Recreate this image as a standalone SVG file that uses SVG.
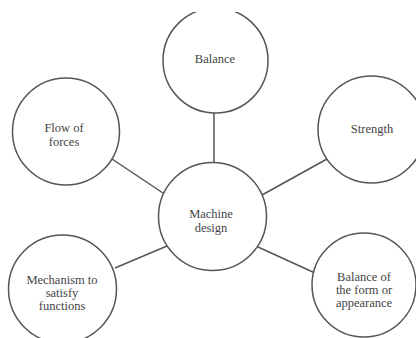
<svg xmlns="http://www.w3.org/2000/svg" width="416" height="338" viewBox="0 0 416 338">
<style>
.n{fill:#fff;stroke:#555;stroke-width:1.5}
.c line{stroke:#555;stroke-width:1.5}
.t text{font-size:12.5px;fill:#444;text-anchor:middle}
</style>
<defs><clipPath id="cl"><rect x="0" y="12" width="416" height="326"/></clipPath></defs>
<rect width="416" height="338" fill="#fff"/>
<g id="connectors" class="c">
<line x1="214" y1="113" x2="214" y2="163"/>
<line x1="112" y1="159" x2="163" y2="193"/>
<line x1="327" y1="159" x2="262" y2="195"/>
<line x1="115" y1="268" x2="167" y2="246"/>
<line x1="258" y1="247" x2="315" y2="273"/>
</g>
<g clip-path="url(#cl)" class="t" font-family="Liberation Serif, Times New Roman, DejaVu Serif, serif">
<g id="balance"><circle class="n" cx="215.5" cy="60.5" r="52.5"/><text x="215" y="63">Balance</text></g>
<g id="flow"><circle class="n" cx="66" cy="131.5" r="53.5"/><text x="64" y="132">Flow of</text><text x="64" y="145.5">forces</text></g>
<g id="strength"><circle class="n" cx="371.5" cy="129.5" r="53.5"/><text x="372" y="133">Strength</text></g>
<g id="machine"><circle class="n" cx="212.5" cy="216.5" r="54"/><text x="211" y="218">Machine</text><text x="211" y="231.5">design</text></g>
<g id="mechanism"><circle class="n" cx="62.5" cy="289" r="54"/><text x="62" y="284">Mechanism to</text><text x="62" y="297">satisfy</text><text x="62" y="310">functions</text></g>
<g id="form"><circle class="n" cx="364" cy="285" r="52"/><text x="364" y="281">Balance of</text><text x="364" y="294">the form or</text><text x="364" y="307">appearance</text></g>
</g>
</svg>
